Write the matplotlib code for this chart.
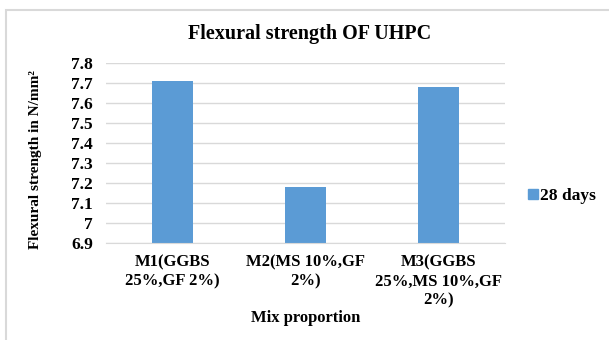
import matplotlib
matplotlib.use("Agg")
import matplotlib.pyplot as plt
from matplotlib.patches import Rectangle, Patch

categories = ["M1(GGBS\n25%,GF 2%)", "M2(MS 10%,GF\n2%)", "M3(GGBS\n25%,MS 10%,GF\n2%)"]
values_28 = [7.71, 7.18, 7.68]
yticks = [6.9, 7.0, 7.1, 7.2, 7.3, 7.4, 7.5, 7.6, 7.7, 7.8]
ytick_labels = ["6.9", "7", "7.1", "7.2", "7.3", "7.4", "7.5", "7.6", "7.7", "7.8"]

plt.rcParams['font.family'] = ['Liberation Serif', 'DejaVu Serif']
plt.rcParams['font.weight'] = 'bold'

W, H = 609, 340
fig = plt.figure(figsize=(W/100, H/100), dpi=100)
bar_color = "#5B9BD5"
grid_color = "#D9D9D9"

# outer chart border
fig.patches.append(Rectangle((5.5/W, -0.1), 1.0, 1.1 - 10.5/H, transform=fig.transFigure,
                             fill=False, edgecolor="#D9D9D9", linewidth=1.5))

ax = fig.add_axes([106/W, 1 - 243/H, (505 - 106)/W, (243 - 63.3)/H])
x = list(range(len(categories)))
ax.bar(x, values_28, width=0.313, bottom=0, color=bar_color, zorder=3, label="28 days")
ax.set_ylim(6.9, 7.8)
ax.set_xlim(-0.5, 2.5)
ax.set_yticks(yticks)
ax.set_yticklabels(ytick_labels, fontsize=12.5, fontweight='bold')
ax.set_xticks(x)
ax.set_xticklabels(categories, fontsize=12, fontweight='bold', linespacing=1.22)
ax.tick_params(axis='x', length=0, pad=8.5)
ax.tick_params(axis='y', length=0, pad=9.5)
ax.grid(axis='y', color=grid_color, linewidth=1, zorder=0)
for s in ['top', 'right', 'left']:
    ax.spines[s].set_visible(False)
ax.spines['bottom'].set_color(grid_color)
ax.spines['bottom'].set_zorder(4)

fig.text(310/W, 1 - 34/H, "Flexural strength OF UHPC", ha='center', va='center',
         fontsize=14.5, fontweight='bold')
fig.text(306/W, 1 - 318/H, "Mix proportion", ha='center', va='center',
         fontsize=12, fontweight='bold')
fig.text(36/W, 1 - 160/H, "Flexural strength in N/mm²", ha='center', va='center',
         rotation=90, fontsize=11, fontweight='bold')

ax.legend(handles=[Patch(color=bar_color, label="28 days")], loc='center left',
          bbox_to_anchor=(525/W, 1 - 196/H), bbox_transform=fig.transFigure,
          frameon=False, handlelength=0.55, handleheight=0.55, handletextpad=0.12,
          borderpad=0.2, borderaxespad=0,
          prop={'family': 'Liberation Serif', 'weight': 'bold', 'size': 12.5})

fig.savefig("out.png", dpi=100)
